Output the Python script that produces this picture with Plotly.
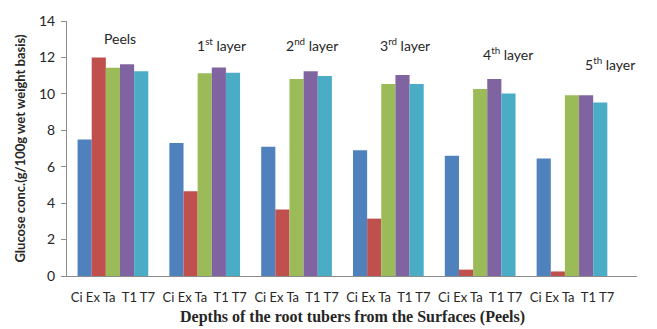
import plotly.graph_objects as go

# Depth groups (layers from the surface) and labels shown above each group
layers = ["Peels", "1st layer", "2nd layer", "3rd layer", "4th layer", "5th layer"]
layer_labels = ["Peels", "1<sup>st</sup> layer", "2<sup>nd</sup> layer",
                "3<sup>rd</sup> layer", "4<sup>th</sup> layer", "5<sup>th</sup> layer"]
label_heights = [13.05, 12.7, 12.7, 12.7, 12.2, 11.65]
label_shifts = [7, 17, 15, 17, 28, 38]

# Treatments (one bar each per layer)
treatments = ["Ci", "Ex", "Ta", "T1", "T7"]
colors = ["#4F81BD", "#C0504D", "#9BBB59", "#8064A2", "#4BACC6"]

# Glucose concentration (g/100g wet weight basis)
ci = [7.5, 7.3, 7.1, 6.9, 6.6, 6.45]
ex = [12.0, 4.65, 3.65, 3.15, 0.35, 0.25]
ta = [11.43, 11.13, 10.82, 10.54, 10.27, 9.93]
t1 = [11.63, 11.45, 11.24, 11.04, 10.82, 9.93]
t7 = [11.24, 11.16, 10.98, 10.54, 10.02, 9.52]
series = [ci, ex, ta, t1, t7]

yticks = [0, 2, 4, 6, 8, 10, 12, 14]

BARGAP = 0.23
FONT = "Lato"
INK = "#262626"

fig = go.Figure()
for name, vals, col in zip(treatments, series, colors):
    fig.add_trace(go.Bar(x=layers, y=vals, name=name,
                         marker=dict(color=col, line=dict(width=0))))

# Each group is labelled with the treatment names in bar order
group_tick = " ".join(treatments[:3]) + "\u00a0 " + " ".join(treatments[3:])

annotations = []
# Layer names above the groups
for i, (lab, h, sh) in enumerate(zip(layer_labels, label_heights, label_shifts)):
    annotations.append(dict(
        x=i, y=h, xref="x", yref="y", text=lab, showarrow=False,
        xshift=sh, font=dict(family=FONT, size=14, color=INK)))

# Axis title under the plot
annotations.append(dict(
    x=0.5, y=0, xref="paper", yref="paper",
    text="<b>Depths of the root tubers from the Surfaces (Peels)</b>",
    showarrow=False, yanchor="middle", yshift=-41,
    font=dict(family="Liberation Serif", size=16, color=INK)))

fig.update_layout(
    width=657, height=329,
    margin=dict(l=67, r=20, t=15, b=53),
    paper_bgcolor="white", plot_bgcolor="white",
    barmode="group", bargap=BARGAP, bargroupgap=0,
    showlegend=False,
    annotations=annotations,
    xaxis=dict(showline=True, linecolor="#8c8c8c", linewidth=1,
               tickmode="array", tickvals=layers,
               ticktext=[group_tick] * len(layers),
               ticks="", ticklabelstandoff=9, showgrid=False,
               zeroline=False,
               tickfont=dict(family=FONT, size=13, color=INK)),
    yaxis=dict(range=[0, 14], tickvals=yticks, showline=True,
               linecolor="#8c8c8c", linewidth=1, ticks="outside",
               ticklen=5, tickcolor="#8c8c8c", showgrid=False,
               zeroline=False, ticklabelstandoff=3,
               tickfont=dict(family=FONT, size=14, color=INK),
               title=dict(text="<b>Glucose conc.(g/100g wet weight basis)</b>",
                          font=dict(family=FONT, size=13, color=INK),
                          standoff=10)),
)

fig.write_html("out.html")
